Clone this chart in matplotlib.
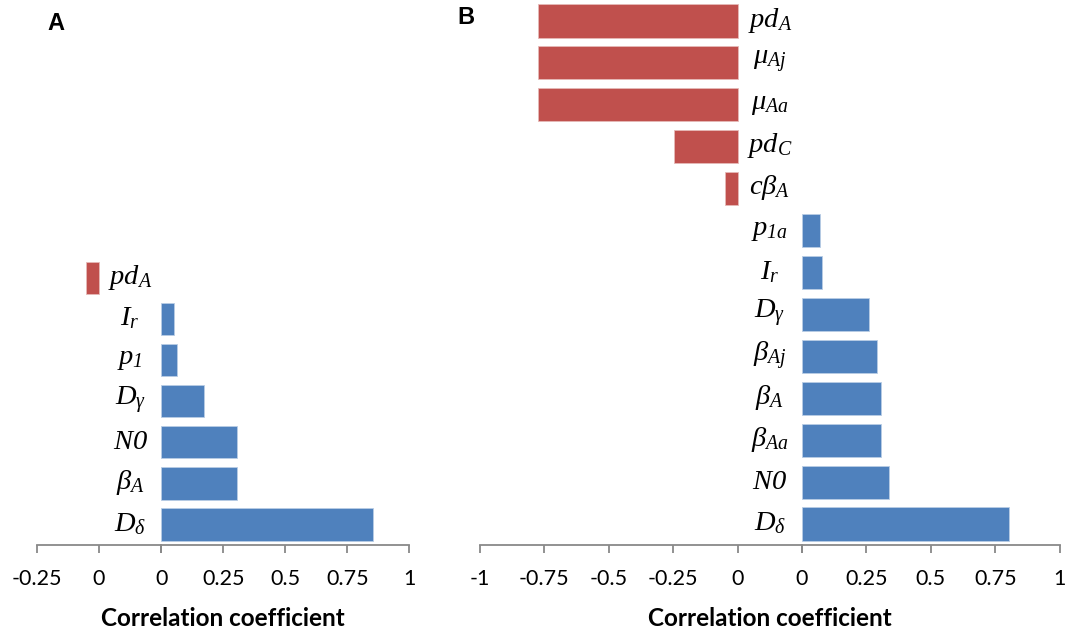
import matplotlib.pyplot as plt
import numpy as np

plt.rcParams['mathtext.fontset'] = 'custom'
plt.rcParams['mathtext.it'] = 'Liberation Serif:italic'
plt.rcParams['mathtext.rm'] = 'Liberation Serif:italic'  # digits in the labels are italic too
plt.rcParams['font.family'] = ['Lato', 'DejaVu Sans']

# correlation coefficients, listed top to bottom
labels_a = [r'$pd_A$', r'$I_r$', r'$p_1$', r'$D_\gamma$', r'$N0$',
            r'$\beta_A$', r'$D_\delta$']
corr_a = [-0.052, 0.051, 0.065, 0.171, 0.305, 0.305, 0.855]

labels_b = [r'$pd_A$', r'$\mu_{Aj}$', r'$\mu_{Aa}$', r'$pd_C$', r'$c\beta_A$',
            r'$p_{1a}$', r'$I_r$', r'$D_\gamma$', r'$\beta_{Aj}$', r'$\beta_A$',
            r'$\beta_{Aa}$', r'$N0$', r'$D_\delta$']
corr_b = [-0.776, -0.775, -0.773, -0.247, -0.047, 0.071, 0.077, 0.262, 0.293, 0.308,
          0.308, 0.338, 0.805]

RED = '#C0504D'
BLUE = '#4F81BD'
AXIS_GRAY = '#898989'

W, H = 1070, 635
fig = plt.figure(figsize=(W / 100, H / 100), dpi=100)


def px_axes(x0, x1, y_bottom, y_top):
    # axes placed by pixel coordinates (y measured from the top)
    return fig.add_axes([x0 / W, 1 - y_bottom / H, (x1 - x0) / W, (y_bottom - y_top) / H])


def style(ax, ticks, ticklabels):
    for s in ('left', 'top', 'right'):
        ax.spines[s].set_visible(False)
    ax.spines['bottom'].set_color(AXIS_GRAY)
    ax.spines['bottom'].set_linewidth(1.3)
    ax.set_yticks([])
    ax.set_xticks(ticks)
    ax.set_xticklabels(ticklabels)
    ax.tick_params(axis='x', direction='out', length=6, width=1.3, color=AXIS_GRAY,
                   pad=11, labelsize=15.5)
    ax.patch.set_alpha(0)


def panel(labels, corr, neg_min, neg_box, pos_box, y_top):
    corr = np.array(corr)
    n = len(corr)
    y = np.arange(n)[::-1]
    neg = px_axes(neg_box[0], neg_box[1], 545, y_top)
    pos = px_axes(pos_box[0], pos_box[1], 545, y_top)
    gap = 0.25
    neg.set_xlim(neg_min, gap)
    pos.set_xlim(0, 1)
    for ax in (neg, pos):
        ax.set_ylim(-0.5, n - 0.5)
    m = corr < 0
    neg.barh(y[m], corr[m], height=0.79, color=RED, edgecolor='#E6B9B8', linewidth=0.6)
    pos.barh(y[~m], corr[~m], height=0.79, color=BLUE, edgecolor='#B9CDE5', linewidth=0.6)
    nt = np.arange(neg_min, 0.001, 0.25)
    style(neg, list(nt) + [gap],
          ['{:g}'.format(round(t, 2)) for t in nt] + [''])
    pt = np.arange(0, 1.001, 0.25)
    style(pos, pt, ['{:g}'.format(t) for t in pt])
    for yi, lab in zip(y, labels):
        neg.text(gap / 2, yi + 0.02, lab, ha='center', va='center', fontsize=20.5)
    mid = (neg_box[0] + pos_box[1]) / 2
    fig.text(mid / W, 1 - 618 / H, 'Correlation coefficient', ha='center', va='center',
             fontsize=17.5, fontweight='bold')


panel(labels_a, corr_a, -0.25, (36.7, 161.3), (161.3, 409.3), 545 - 7 * 41.1)
panel(labels_b, corr_b, -1.0, (480, 802), (802, 1059.6), 0)

fig.text(56 / W, 1 - 24 / H, 'A', ha='center', va='center', fontsize=17,
         fontweight='bold', family='Liberation Sans')
fig.text(466 / W, 1 - 18 / H, 'B', ha='center', va='center', fontsize=17,
         fontweight='bold', family='Liberation Sans')

fig.savefig('out.png', dpi=100)
